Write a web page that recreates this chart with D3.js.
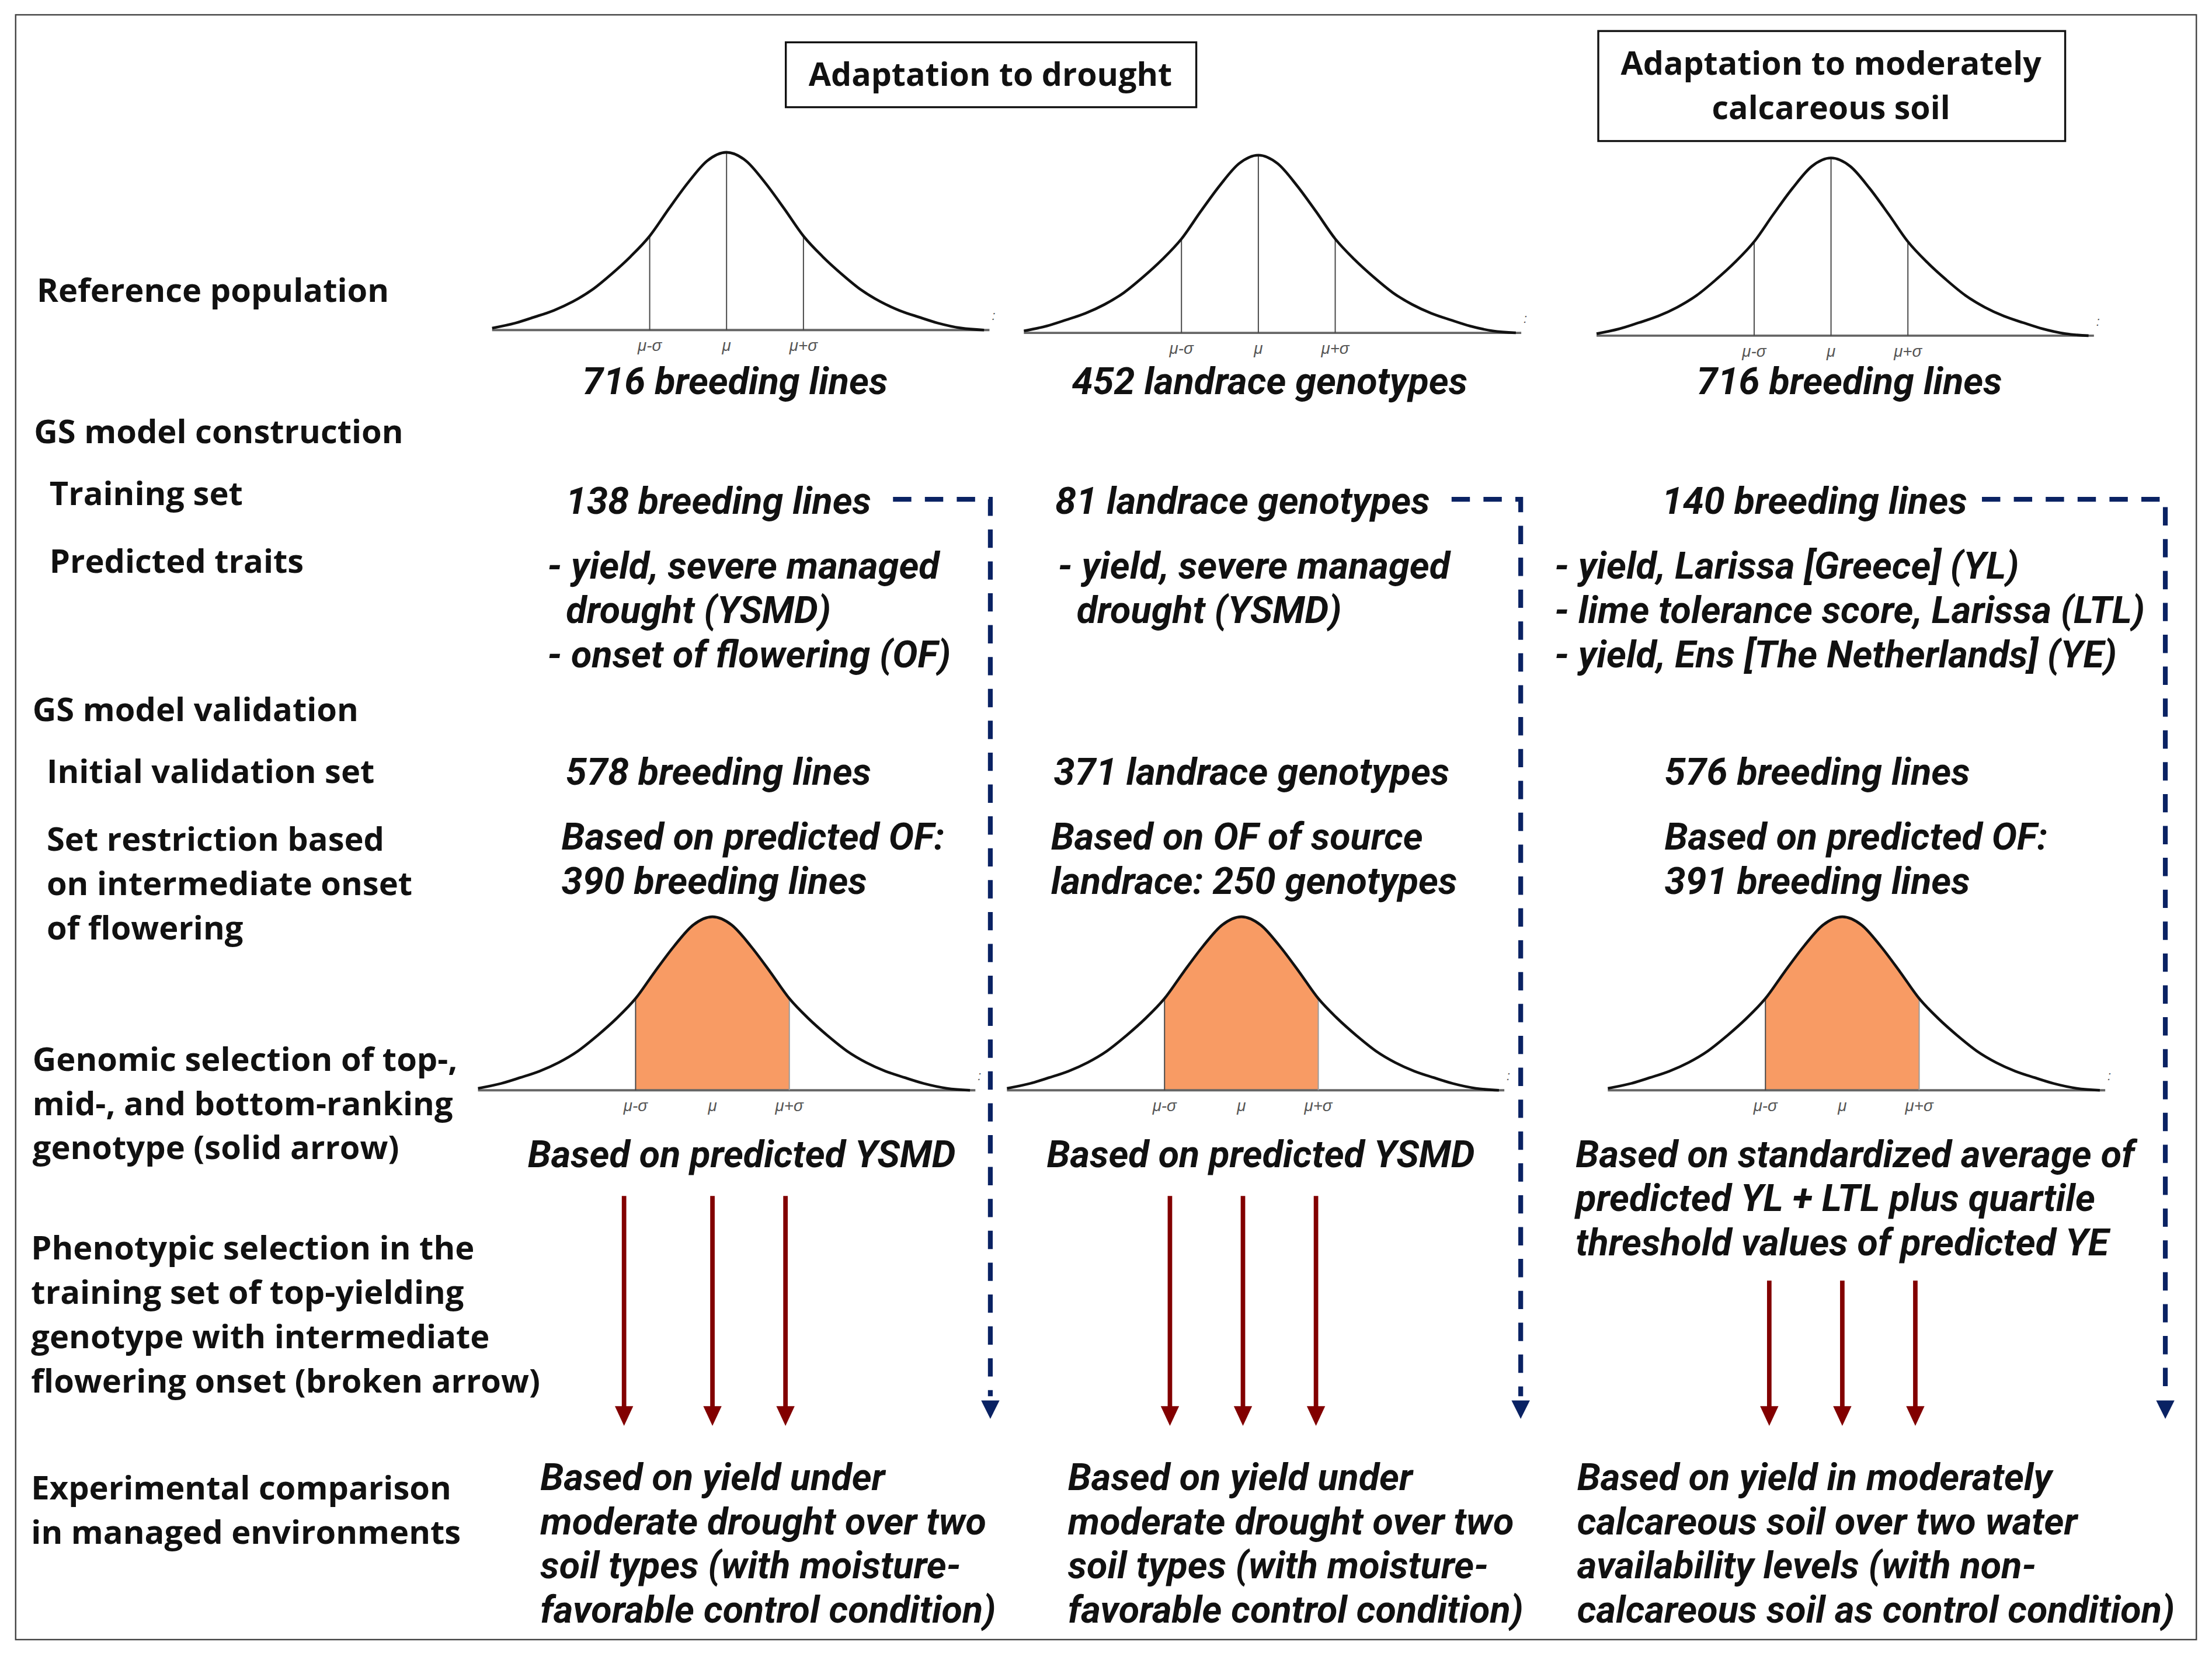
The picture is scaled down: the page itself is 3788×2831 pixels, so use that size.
<!DOCTYPE html>
<html>
<head>
<meta charset="utf-8">
<script src="https://cdn.jsdelivr.net/npm/d3@7/dist/d3.min.js"></script>
<style>
  html, body { margin: 0; padding: 0; background: #fff; }
  svg { display: block; }
  .rowlabel { font-family: "Open Sans", sans-serif; font-weight: 700; fill: #111; }
  .coltext { font-family: Roboto, sans-serif; font-weight: 700; font-style: italic; fill: #111; }
  .header { font-family: "Open Sans", sans-serif; font-weight: 700; fill: #111; }
  .tick { font-family: "Liberation Sans Narrow", "Liberation Sans", sans-serif; font-style: italic; fill: #555; }
</style>
</head>
<body>
<div class="flowchart"></div>
<script>
// ---- content ----
const headerTitles = [["Adaptation to drought"], ["Adaptation to moderately", "calcareous soil"]];

const rowLabels = [
  ["Reference population"],
  ["GS model construction"],
  ["Training set"],
  ["Predicted traits"],
  ["GS model validation"],
  ["Initial validation set"],
  ["Set restriction based", "on intermediate onset", "of flowering"],
  ["Genomic selection of top-,", "mid-, and bottom-ranking", "genotype (solid arrow)"],
  ["Phenotypic selection in the", "training set of top-yielding", "genotype with intermediate", "flowering onset (broken arrow)"],
  ["Experimental comparison", "in managed environments"]
];

const referenceSets = ["716 breeding lines", "452 landrace genotypes", "716 breeding lines"];
const trainingSets = ["138 breeding lines", "81 landrace genotypes", "140 breeding lines"];
const predictedTraits = [
  ["- yield, severe managed", "\u00a0\u00a0drought (YSMD)", "- onset of flowering (OF)"],
  ["- yield, severe managed", "\u00a0\u00a0drought (YSMD)"],
  ["- yield, Larissa [Greece] (YL)", "- lime tolerance score, Larissa (LTL)", "- yield, Ens [The Netherlands] (YE)"]
];
const validationSets = ["578 breeding lines", "371 landrace genotypes", "576 breeding lines"];
const restrictedSets = [
  ["Based on predicted OF:", "390 breeding lines"],
  ["Based on OF of source", "landrace: 250 genotypes"],
  ["Based on predicted OF:", "391 breeding lines"]
];
const genomicCriteria = [
  ["Based on predicted YSMD"],
  ["Based on predicted YSMD"],
  ["Based on standardized average of", "predicted YL + LTL plus quartile", "threshold values of predicted YE"]
];
const experimentalBases = [
  ["Based on yield under", "moderate drought over two", "soil types (with moisture-", "favorable control condition)"],
  ["Based on yield under", "moderate drought over two", "soil types (with moisture-", "favorable control condition)"],
  ["Based on yield in moderately", "calcareous soil over two water", "availability levels (with non-", "calcareous soil as control condition)"]
];

// bell curve: z (in sigma units) and relative height
const curveZ = [-3.05, -2.75, -2.5, -2.25, -2, -1.75, -1.5, -1.25, -1, -0.75, -0.5, -0.25, 0,
                0.25, 0.5, 0.75, 1, 1.25, 1.5, 1.75, 2, 2.25, 2.5, 2.75, 3.05, 3.35];
const curveH = [0.011, 0.039, 0.073, 0.11, 0.16, 0.226, 0.314, 0.413, 0.529, 0.683, 0.83, 0.953, 1,
                0.953, 0.83, 0.683, 0.529, 0.413, 0.314, 0.226, 0.16, 0.11, 0.073, 0.039, 0.011, 0.0];
const tickZ = [-1, 0, 1];
const tickLabels = ["\u03bc-\u03c3", "\u03bc", "\u03bc+\u03c3"];
const selectedRange = [-1, 1];          // shaded intermediate-flowering window
// bottom-, mid-, top-ranking genotype per column, in sigma units of the validation curve
const rankedZ = [[-1.15, 0, 0.95], [-0.93, 0.02, 0.97], [-0.95, 0, 0.95]];

// ---- layout ----
const W = 1568, H = 1172;
const lineStep = 31.4;
const colSize = 26.8;
const cols = [
  { refCx: 515, refBase: 234, valCx: 505, valBase: 773, sigma: 54.5, sizeX: 521, trainX: 401, traitX: 388,
    validX: 401, restrX: 398, basisX: 374, expX: 383, dashFrom: 633, dashX: 702, arrowTop: 848 },
  { refCx: 892, refBase: 236, valCx: 880, valBase: 773, sigma: 54.5, sizeX: 900, trainX: 748, traitX: 750,
    validX: 747, restrX: 745, basisX: 742, expX: 757, dashFrom: 1029, dashX: 1078, arrowTop: 848 },
  { refCx: 1298, refBase: 238, valCx: 1306, valBase: 773, sigma: 54.5, sizeX: 1311, trainX: 1178, traitX: 1102,
    validX: 1180, restrX: 1180, basisX: 1117, expX: 1118, dashFrom: 1405, dashX: 1535, arrowTop: 908 }
];
const rowPos = [[26, 206], [24, 306], [35, 350], [35, 398], [23, 503], [33, 547], [33, 595], [23, 751], [22, 885], [22, 1055]];

const svg = d3.select(".flowchart").append("svg")
  .attr("width", 3788)
  .attr("height", 2831)
  .attr("viewBox", `0 0 ${W} ${H}`);

svg.append("rect").attr("width", W).attr("height", H).attr("fill", "#fff");
svg.append("rect")
  .attr("x", 11).attr("y", 10.5).attr("width", 1546).attr("height", 1152)
  .attr("fill", "none").attr("stroke", "#444").attr("stroke-width", 1);

// text helper: y is the visual middle of the first line
function textBlock(g, lines, x, y, cls, size, anchor) {
  g.selectAll(null).data(lines).enter().append("text")
    .attr("class", cls)
    .attr("x", x)
    .attr("y", (d, i) => y + i * lineStep + size * 0.35)
    .attr("font-size", size)
    .attr("text-anchor", anchor || "start")
    .text(d => d);
}

// header boxes
const headerBoxes = [
  { x: 557, y: 30, w: 291, h: 46, cx: 702, cy: 53 },
  { x: 1133, y: 22, w: 331, h: 78, cx: 1298, cy: 45 }
];
headerBoxes.forEach((b, i) => {
  svg.append("rect").attr("x", b.x).attr("y", b.y).attr("width", b.w).attr("height", b.h)
    .attr("fill", "#fff").attr("stroke", "#111").attr("stroke-width", 1.4);
  textBlock(svg, headerTitles[i], b.cx, b.cy, "header", 23, "middle");
});

// row labels
rowLabels.forEach((lines, i) => textBlock(svg, lines, rowPos[i][0], rowPos[i][1], "rowlabel", 23.2, "start"));

const curvePts = curveZ.map((z, i) => ({ z: z, h: curveH[i] }));

function drawCurve(g, cx, base, sigma, peak, shaded) {
  const x = d3.scaleLinear().domain([-1, 1]).range([cx - sigma, cx + sigma]);
  const y = d3.scaleLinear().domain([0, 1]).range([base, base - peak]);
  const line = d3.line().x(d => x(d.z)).y(d => y(d.h)).curve(d3.curveMonotoneX);

  if (shaded) {
    const inside = curvePts.filter(d => d.z >= selectedRange[0] && d.z <= selectedRange[1]);
    const area = d3.area().x(d => x(d.z)).y0(y(0)).y1(d => y(d.h)).curve(d3.curveMonotoneX);
    g.append("path").attr("d", area(inside)).attr("fill", "#f89b64");
  }
  // baseline axis
  g.append("line")
    .attr("x1", x(-3.05)).attr("x2", x(3.42))
    .attr("y1", y(0)).attr("y2", y(0))
    .attr("stroke", "#666").attr("stroke-width", 1.6);
  // sigma lines
  const ticks = shaded ? tickZ.filter(z => z !== 0) : tickZ;
  g.selectAll(null).data(ticks).enter().append("line")
    .attr("x1", d => x(d)).attr("x2", d => x(d))
    .attr("y1", y(0))
    .attr("y2", d => y(curvePts.find(p => p.z === d).h))
    .attr("stroke", (d) => shaded && d > 0 ? "#9a9a9a" : "#444")
    .attr("stroke-width", 0.8);
  g.append("path").attr("d", line(curvePts))
    .attr("fill", "none").attr("stroke", "#111").attr("stroke-width", 1.9);
  g.selectAll(null).data(tickZ).enter().append("text")
    .attr("class", "tick")
    .attr("x", d => x(d)).attr("y", y(0) + 15)
    .attr("font-size", 11.5)
    .attr("text-anchor", "middle")
    .text((d, i) => tickLabels[i]);
  // small stray colon mark at curve end
  g.append("text").attr("class", "tick")
    .attr("x", x(3.45)).attr("y", y(0) - 7)
    .attr("font-size", 9).attr("fill", "#aaa")
    .text(":");
  return x;
}

cols.forEach((c, i) => {
  const g = svg.append("g");
  drawCurve(g, c.refCx, c.refBase, c.sigma, 126, false);
  const vx = drawCurve(g, c.valCx, c.valBase, c.sigma, 123, true);

  textBlock(g, [referenceSets[i]], c.sizeX, 270, "coltext", colSize, "middle");
  textBlock(g, [trainingSets[i]], c.trainX, 355, "coltext", colSize);
  textBlock(g, predictedTraits[i], c.traitX, 401, "coltext", colSize);
  textBlock(g, [validationSets[i]], c.validX, 547, "coltext", colSize);
  textBlock(g, restrictedSets[i], c.restrX, 593, "coltext", colSize);
  textBlock(g, genomicCriteria[i], c.basisX, 818, "coltext", colSize);
  textBlock(g, experimentalBases[i], c.expX, 1047, "coltext", colSize);

  // broken arrow: phenotypic selection from the training set
  g.append("path")
    .attr("d", `M${c.dashFrom},354 H${c.dashX} V990`)
    .attr("fill", "none").attr("stroke", "#0a2263")
    .attr("stroke-width", 3.4).attr("stroke-dasharray", "13,9.6");
  g.append("path")
    .attr("d", `M${c.dashX - 6.5},993 L${c.dashX + 6.5},993 L${c.dashX},1006 Z`)
    .attr("fill", "#0a2263");

  // solid arrows: genomic selection of ranked genotypes
  const arrows = g.selectAll(null).data(rankedZ[i]).enter().append("g");
  arrows.append("line")
    .attr("x1", d => vx(d)).attr("x2", d => vx(d))
    .attr("y1", c.arrowTop).attr("y2", 998)
    .attr("stroke", "#820000").attr("stroke-width", 3.2);
  arrows.append("path")
    .attr("d", d => `M${vx(d) - 6.5},997 L${vx(d) + 6.5},997 L${vx(d)},1011 Z`)
    .attr("fill", "#820000");
});
</script>
</body>
</html>
